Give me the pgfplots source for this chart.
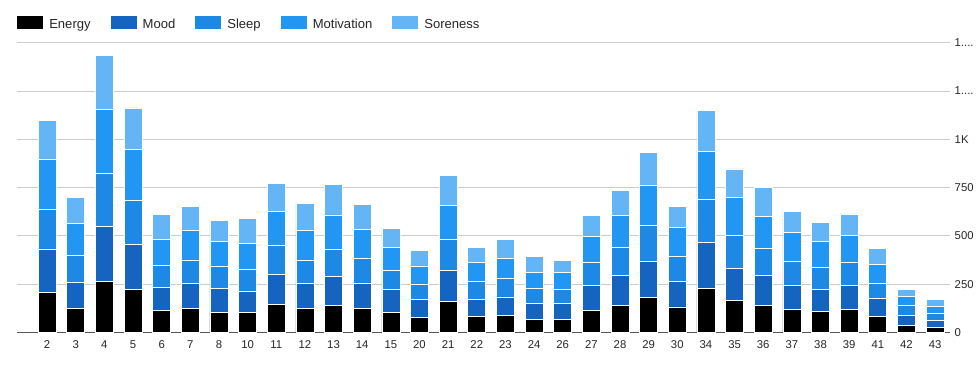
\documentclass[border=0pt]{standalone}
\usepackage{fontspec}
\setmainfont{Liberation Sans}
\usepackage{pgfplots}
\usepackage{pgfplotstable}
\pgfplotsset{compat=1.18}
\definecolor{cEnergy}{HTML}{000000}
\definecolor{cMood}{HTML}{1565C0}
\definecolor{cSleep}{HTML}{1E88E5}
\definecolor{cMot}{HTML}{2196F3}
\definecolor{cSore}{HTML}{64B5F6}
\newcommand{\trunc}{1....}
\pgfplotstableread{
x lab E M S Mo So
0 2 208 225 207 255 204
1 3 125 135 137 167 135
2 4 265 282 279 328 279
3 5 223 233 229 262 215
4 6 113 119 115 136 130
5 7 125 127 124 152 126
6 8 102 126 117 126 111
7 10 102 113 112 134 129
8 11 146 156 149 176 144
9 12 125 127 123 153 140
10 13 141 148 144 176 157
11 14 123 134 127 150 129
12 15 104 119 97 120 100
13 20 79 91 77 98 80
14 21 161 160 161 177 154
15 22 84 89 93 97 79
16 23 90 94 96 102 100
17 24 68 83 79 79 83
18 26 68 83 72 90 62
19 27 115 127 121 136 108
20 28 141 155 144 166 129
21 29 182 186 186 210 169
22 30 132 134 130 149 109
23 34 228 238 223 249 211
24 35 164 168 170 198 147
25 36 141 155 139 166 151
26 37 120 122 126 148 111
27 38 110 113 114 136 98
28 39 120 122 121 139 112
29 41 84 94 78 98 83
30 42 37 52 52 46 38
31 43 27 36 36 36 37
}\data
\begin{document}
\begin{tikzpicture}[x=1pt,y=1pt]
\useasboundingbox (0,0) rectangle (735,275.25);
\begin{axis}[
  at={(12.75pt,25.875pt)}, anchor=south west,
  scale only axis, width=699.75pt, height=217.35pt,
  ybar stacked, bar width=13.5pt,
  xmin=-1.05, xmax=31.52, ymin=0, ymax=1500,
  xtick=data, xticklabels from table={\data}{lab},
  ytick={0,250,500,750,1000,1250,1500},
  yticklabels={0,250,500,750,1K,\trunc,\trunc},
  yticklabel pos=right,
  ymajorgrids, grid style={draw=black!20, line width=0.6pt},
  axis line style={draw=none},
  major tick length=0pt,
  tick label style={font=\fontsize{8.5}{10}\selectfont, text=black!85},
  xticklabel style={yshift=-2.5pt},
  yticklabel style={xshift=0pt},
  /pgf/number format/assume math mode=true,
  extra y ticks={0}, extra y tick labels={},
  extra y tick style={grid style={draw=black!65, line width=1pt}},
  legend image code/.code={\path[#1, draw=none] (0pt,-3.1pt) rectangle (19.5pt,6.65pt);},
  legend columns=-1,
  legend style={at={(0,1.094)}, anchor=north west, draw=none, fill=none,
    inner sep=0pt, font=\fontsize{9.8}{11.5}\selectfont, text=black!85,
    /tikz/every odd column/.append style={column sep=2.5pt},
    /tikz/every even column/.append style={column sep=13pt}},
]
\addplot[fill=cEnergy, draw=white, line width=0.5pt] table[x=x,y=E]{\data};
\addlegendentry{Energy}
\addplot[fill=cMood, draw=white, line width=0.5pt] table[x=x,y=M]{\data};
\addlegendentry{Mood}
\addplot[fill=cSleep, draw=white, line width=0.5pt] table[x=x,y=S]{\data};
\addlegendentry{Sleep}
\addplot[fill=cMot, draw=white, line width=0.5pt] table[x=x,y=Mo]{\data};
\addlegendentry{Motivation}
\addplot[fill=cSore, draw=white, line width=0.5pt] table[x=x,y=So]{\data};
\addlegendentry{Soreness}
\end{axis}
\end{tikzpicture}
\end{document}
